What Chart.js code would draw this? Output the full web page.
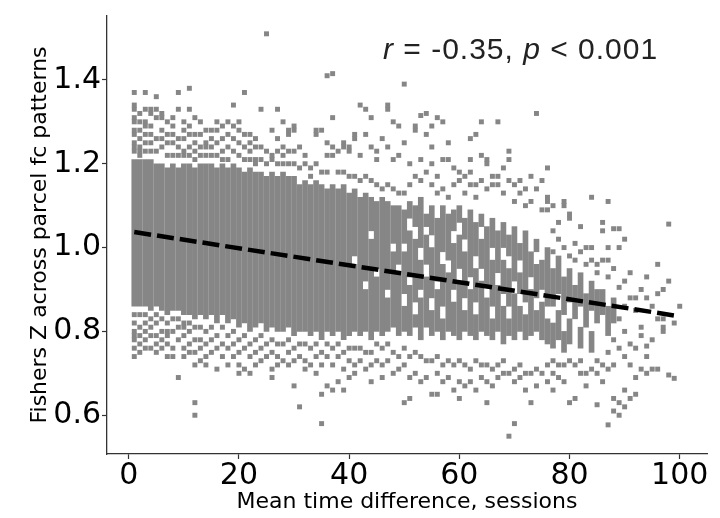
<!DOCTYPE html>
<html>
<head>
<meta charset="utf-8">
<script src="https://cdn.jsdelivr.net/npm/chart.js@4.4.1/dist/chart.umd.min.js"></script>
<style>
  html, body { margin: 0; padding: 0; background: #fff; }
  #wrap { width: 720px; height: 518px; }
</style>
</head>
<body>
<div id="wrap"><canvas id="chart" width="720" height="518"></canvas></div>
<script>
// Dense runs of stacked points: for each column (x = session gap) the [low, high] runs
const runCols = [
  1, 2, 3, 4, 5, 6, 7, 8, 9, 10, 11, 12, 13, 14, 15, 16, 17, 18, 19, 20,
  21, 22, 23, 24, 25, 26, 27, 28, 29, 30, 31, 32, 33, 34, 35, 36, 37, 38, 39, 40,
  41, 42, 43, 44, 45, 46, 47, 48, 49, 50, 51, 52, 53, 54, 55, 56, 57, 58, 59, 60,
  61, 62, 63, 64, 65, 66, 67, 68, 69, 70, 71, 72, 73, 74, 75, 76, 77, 78, 79, 80,
  81, 82, 83, 84, 85, 86, 87, 88
];
const runRanges = [
  [[0.86, 1.21]], [[0.86, 1.21]], [[0.86, 1.21]], [[0.85, 1.21]], [[0.86, 1.20]],
  [[0.85, 1.20]], [[0.84, 1.19]], [[0.85, 1.20]], [[0.85, 1.19]], [[0.84, 1.20]],
  [[0.84, 1.20]], [[0.83, 1.19]], [[0.84, 1.20]], [[0.83, 1.20]], [[0.84, 1.20]],
  [[0.82, 1.19]], [[0.84, 1.20]], [[0.82, 1.19]], [[0.83, 1.20]], [[0.81, 1.19]],
  [[0.82, 1.18]], [[0.80, 1.19]], [[0.81, 1.18]], [[0.82, 1.18]], [[0.80, 1.17]],
  [[0.81, 1.18]], [[0.80, 1.17]], [[0.80, 1.18]], [[0.81, 1.17]], [[0.79, 1.17]],
  [[0.80, 1.15]], [[0.80, 1.16]], [[0.79, 1.15]], [[0.80, 1.16]], [[0.78, 1.15]],
  [[0.80, 1.14]], [[0.79, 1.15]], [[0.80, 1.14]], [[0.78, 1.15]], [[0.79, 1.13]],
  [[0.80, 0.96], [0.98, 1.14]],
  [[0.79, 1.12]],
  [[0.80, 0.90], [0.92, 1.13]],
  [[0.78, 1.02], [1.04, 1.12]],
  [[0.80, 0.93], [0.95, 1.11]],
  [[0.79, 1.12]],
  [[0.80, 0.88], [0.90, 1.11]],
  [[0.81, 0.99], [1.01, 1.10]],
  [[0.79, 0.94], [0.96, 1.10]],
  [[0.80, 0.86], [0.89, 0.99], [1.01, 1.09]],
  [[0.79, 0.91], [0.93, 1.04], [1.07, 1.11]],
  [[0.81, 0.84], [0.87, 1.02], [1.05, 1.10]],
  [[0.78, 0.88], [0.90, 0.97], [1.00, 1.12]],
  [[0.81, 0.93], [0.96, 1.03], [1.05, 1.08]],
  [[0.79, 0.85], [0.88, 1.00], [1.03, 1.10]],
  [[0.80, 0.90], [0.92, 1.07]],
  [[0.78, 0.83], [0.86, 0.96], [0.99, 1.10]],
  [[0.80, 0.94], [0.97, 1.08]],
  [[0.79, 0.87], [0.90, 1.01], [1.04, 1.09]],
  [[0.78, 0.92], [0.95, 1.03], [1.06, 1.10]],
  [[0.80, 0.85], [0.88, 0.99], [1.02, 1.07]],
  [[0.79, 0.90], [0.93, 1.09]],
  [[0.78, 0.84], [0.87, 0.95], [0.98, 1.06]],
  [[0.80, 0.92], [0.95, 1.02], [1.05, 1.08]],
  [[0.79, 0.88], [0.91, 1.05]],
  [[0.78, 0.83], [0.86, 0.97], [1.00, 1.07]],
  [[0.80, 0.91], [0.94, 1.04]],
  [[0.77, 0.86], [0.89, 0.97], [1.00, 1.06]],
  [[0.79, 0.83], [0.86, 0.95], [0.98, 1.03]],
  [[0.78, 0.89], [0.92, 1.05]],
  [[0.80, 0.86], [0.89, 0.94], [0.97, 1.01]],
  [[0.78, 0.84], [0.87, 1.04]],
  [[0.79, 0.90], [0.93, 0.99]],
  [[0.80, 0.85], [0.88, 0.96], [0.99, 1.02]],
  [[0.78, 0.87], [0.90, 0.97]],
  [[0.77, 0.83], [0.86, 1.00]],
  [[0.76, 0.82], [0.86, 0.95]],
  [[0.78, 0.85], [0.89, 0.98]],
  [[0.75, 0.80], [0.84, 0.93]],
  [[0.77, 0.83], [0.87, 0.95]],
  [[0.83, 0.91]],
  [[0.76, 0.81], [0.86, 0.94]],
  [[0.81, 0.89]],
  [[0.75, 0.80], [0.85, 0.92]],
  [[0.82, 0.90]],
  [[0.84, 0.90]],
  [[0.79, 0.86]],
  [[0.82, 0.88]]
];

// Scattered points outside the dense runs, listed per column
const sparseCols = [
  1, 2, 3, 4, 5, 6, 7, 8, 9, 10, 11, 12, 13, 14, 15, 16, 17, 18, 19, 20,
  21, 22, 23, 24, 25, 26, 27, 28, 29, 30, 31, 32, 33, 34, 35, 36, 37, 38, 39, 40,
  41, 42, 43, 44, 45, 46, 47, 48, 49, 50, 51, 52, 53, 54, 55, 56, 57, 58, 59, 60,
  61, 62, 63, 64, 65, 66, 67, 68, 69, 70, 71, 72, 73, 74, 75, 76, 77, 78, 79, 80,
  81, 82, 83, 84, 85, 86, 87, 88, 89, 90, 91, 92, 93, 94, 95, 96, 97, 98, 99, 100
];
const sparseVals = [
  [1.37, 1.34, 1.33, 1.31, 1.30, 1.28, 1.27, 1.25, 1.24, 1.23, 0.84, 0.82, 0.80, 0.79, 0.78, 0.76, 0.74],
  [1.32, 1.30, 1.28, 1.26, 1.24, 1.23, 1.22, 0.84, 0.81, 0.79, 0.77, 0.75],
  [1.37, 1.33, 1.30, 1.29, 1.27, 1.25, 1.23, 0.84, 0.82, 0.80, 0.78, 0.76],
  [1.33, 1.32, 1.29, 1.27, 1.25, 1.23, 0.83, 0.81, 0.79, 0.76],
  [1.36, 1.33, 1.31, 1.26, 1.23, 0.84, 0.82, 0.79, 0.77, 0.75],
  [1.32, 1.31, 1.28, 1.26, 1.24, 0.83, 0.80, 0.78, 0.76],
  [1.30, 1.27, 1.25, 1.22, 0.82, 0.80, 0.79, 0.77, 0.74],
  [1.31, 1.29, 1.27, 1.25, 1.22, 0.83, 0.80, 0.76, 0.74],
  [1.37, 1.33, 1.26, 1.24, 1.22, 0.83, 0.81, 0.78, 0.69],
  [1.30, 1.28, 1.26, 1.23, 1.22, 0.82, 0.81, 0.79, 0.76, 0.74],
  [1.38, 1.33, 1.29, 1.27, 1.24, 1.22, 0.82, 0.80, 0.77, 0.75],
  [1.31, 1.27, 1.25, 1.23, 1.21, 0.81, 0.78, 0.75, 0.72, 0.63, 0.60],
  [1.30, 1.27, 1.24, 1.22, 0.81, 0.78, 0.76, 0.73],
  [1.28, 1.25, 1.24, 1.22, 0.80, 0.77, 0.74, 0.72],
  [1.28, 1.26, 1.24, 1.22, 0.81, 0.78, 0.75],
  [1.30, 1.28, 1.25, 1.22, 0.79, 0.76, 0.71],
  [1.29, 1.26, 1.23, 1.21, 0.81, 0.77, 0.74],
  [1.30, 1.27, 1.24, 1.21, 0.79, 0.76, 0.72],
  [1.34, 1.29, 1.26, 1.23, 0.80, 0.77, 0.74],
  [1.30, 1.28, 1.25, 1.22, 0.78, 0.75, 0.72, 0.70],
  [1.37, 1.27, 1.24, 1.21, 0.79, 0.76, 0.71],
  [1.27, 1.25, 1.23, 1.21, 0.77, 0.74, 0.70],
  [1.26, 1.24, 1.21, 1.20, 0.78, 0.75, 0.72],
  [1.33, 1.24, 1.21, 0.79, 0.76, 0.73],
  [1.51, 1.23, 1.20, 0.77, 0.74],
  [1.28, 1.22, 1.21, 0.78, 0.75, 0.71, 0.69],
  [1.33, 1.26, 1.23, 1.20, 0.77, 0.74, 0.72],
  [1.30, 1.24, 1.22, 1.20, 0.77, 0.73],
  [1.28, 1.27, 1.23, 1.20, 0.78, 0.75, 0.72],
  [1.29, 1.28, 1.23, 1.20, 0.76, 0.73, 0.67],
  [1.24, 1.19, 0.77, 0.74, 0.62],
  [1.22, 1.20, 0.77, 0.73, 0.71],
  [1.19, 1.17, 0.76, 0.72],
  [1.28, 1.27, 1.20, 0.77, 0.74, 0.70],
  [1.28, 1.18, 0.75, 0.72, 0.65, 0.58],
  [1.41, 1.25, 1.22, 1.18, 0.77, 0.74, 0.67],
  [1.415, 1.31, 1.24, 1.22, 0.76, 0.72, 0.66],
  [1.23, 1.18, 0.77, 0.74, 0.68],
  [1.25, 1.24, 1.18, 0.75, 0.71, 0.66],
  [1.24, 1.23, 1.17, 0.76, 0.73, 0.69],
  [1.27, 1.26, 1.17, 0.76, 0.72, 0.70],
  [1.34, 1.22, 1.16, 0.76, 0.73],
  [1.33, 1.27, 1.17, 0.75, 0.71],
  [1.31, 1.24, 1.16, 0.75, 0.72, 0.68],
  [1.23, 1.21, 1.15, 0.77, 0.73],
  [1.26, 1.14, 0.76, 0.72, 0.69],
  [1.34, 1.33, 1.24, 1.15, 0.77, 0.73],
  [1.30, 1.21, 1.14, 0.75, 0.70],
  [1.29, 1.22, 1.13, 0.74, 0.71],
  [1.39, 1.25, 1.13, 0.76, 0.72, 0.63],
  [1.20, 1.15, 0.74, 0.69, 0.64],
  [1.29, 1.28, 1.17, 0.75, 0.70],
  [1.315, 1.21, 1.16, 0.74, 0.68],
  [1.32, 1.27, 1.18, 0.73, 0.69],
  [1.29, 1.24, 1.20, 1.15, 0.73, 0.65],
  [1.31, 1.17, 1.13, 0.74, 0.70, 0.65],
  [1.30, 1.21, 1.14, 0.72, 0.68],
  [1.25, 1.21, 1.12, 0.73, 0.69],
  [1.19, 1.15, 0.72, 0.66],
  [1.18, 1.16, 0.73, 0.68, 0.64],
  [1.17, 1.13, 0.72, 0.67],
  [1.26, 1.21, 1.18, 1.15, 0.71, 0.68],
  [1.27, 1.15, 1.12, 0.73, 0.66],
  [1.30, 1.22, 1.16, 0.72, 0.69],
  [1.21, 1.20, 1.14, 0.72, 0.68, 0.63],
  [1.17, 1.15, 0.71, 0.67],
  [1.30, 1.17, 1.15, 0.72, 0.69],
  [1.19, 1.13, 0.73, 0.70],
  [1.23, 1.21, 1.16, 0.70, 0.55],
  [1.15, 1.11, 0.71, 0.68, 0.58],
  [1.16, 1.13, 0.72, 0.69],
  [1.14, 1.10, 0.70, 0.66],
  [1.17, 1.11, 0.70, 0.63],
  [1.32, 1.14, 0.71, 0.67],
  [1.16, 1.09, 0.70],
  [1.19, 1.12, 1.11, 1.09, 0.72, 0.68],
  [1.10, 1.04, 0.99, 0.73, 0.70, 0.66],
  [1.06, 1.02, 0.72, 0.69],
  [1.11, 1.10, 1.00, 0.72, 0.68],
  [1.08, 1.07, 0.98, 0.73, 0.63],
  [1.01, 0.97, 0.72, 0.64],
  [1.05, 0.99, 0.73, 0.70],
  [1.00, 0.96, 0.70, 0.67],
  [1.12, 1.00, 0.97, 0.71],
  [0.96, 0.94, 0.73, 0.70, 0.625],
  [1.06, 1.04, 0.97, 0.72, 0.68],
  [1.11, 1.00, 0.97, 0.93, 0.75, 0.71, 0.577],
  [1.045, 0.95, 0.78, 0.72, 0.64, 0.61],
  [1.045, 1.00, 0.905, 0.83, 0.76, 0.63, 0.60],
  [1.02, 0.92, 0.86, 0.80, 0.74, 0.66, 0.62],
  [0.94, 0.88, 0.77, 0.72, 0.64],
  [0.88, 0.85, 0.76, 0.69, 0.65],
  [0.90, 0.81, 0.79, 0.71],
  [0.93, 0.88, 0.765, 0.74, 0.70],
  [0.86, 0.78, 0.71],
  [0.96, 0.89, 0.83, 0.71],
  [0.90, 0.83, 0.81, 0.80],
  [1.056, 0.92, 0.696],
  [0.82, 0.688],
  [0.86]
];

// Regression fit endpoints
const fitX = [1, 100];
const fitY = [1.037, 0.836];

const xTicks = [0, 20, 40, 60, 80, 100];
const yTicks = [0.6, 0.8, 1.0, 1.2, 1.4];
const statText = ['r', ' = -0.35, ', 'p', ' < 0.001'];

const POINT_GREY = '#868686';
const TICK_FONT = { family: 'DejaVu Sans', size: 30, lineHeight: 1 };
const LABEL_FONT = { family: 'DejaVu Sans', size: 22, lineHeight: 1.2 };

const segData = [];
runCols.forEach((x, i) => {
  runRanges[i].forEach(r => segData.push({ x: x, y: r }));
});
const ptData = [];
sparseCols.forEach((x, i) => {
  sparseVals[i].forEach(y => ptData.push({ x: x, y: y }));
});
const fitData = fitX.map((x, i) => ({ x: x, y: fitY[i] }));

// r / p annotation drawn on the canvas, italic for the symbols
const statPlugin = {
  id: 'statText',
  afterDraw(chart) {
    const ctx = chart.ctx;
    ctx.save();
    ctx.fillStyle = '#222';
    ctx.textBaseline = 'alphabetic';
    ctx.letterSpacing = '1px';
    let x = 383;
    statText.forEach((part, i) => {
      ctx.font = (i % 2 === 0 ? 'italic ' : '') + '30px "Liberation Sans"';
      ctx.fillText(part, x, 59);
      x += ctx.measureText(part).width;
    });
    ctx.restore();
  }
};

function axisGrid() {
  return {
    display: true,
    offset: false,
    drawOnChartArea: false,
    drawTicks: true,
    tickLength: 5,
    tickColor: '#333',
    tickWidth: 1.2
  };
}

new Chart(document.getElementById('chart'), {
  type: 'scatter',
  data: {
    datasets: [
      {
        type: 'line',
        data: fitData,
        borderColor: '#000',
        borderWidth: 4.5,
        borderDash: [17, 6],
        borderCapStyle: 'butt',
        pointRadius: 0,
        fill: false,
        order: 0
      },
      {
        type: 'scatter',
        data: ptData,
        pointStyle: 'rect',
        pointRadius: 3.5,
        backgroundColor: POINT_GREY,
        borderWidth: 0,
        order: 1
      },
      {
        type: 'bar',
        data: segData,
        backgroundColor: POINT_GREY,
        borderWidth: 0,
        barThickness: 5,
        grouped: false,
        order: 2
      }
    ]
  },
  options: {
    responsive: false,
    animation: false,
    layout: { padding: { top: 11, right: 13, left: 0, bottom: 0 } },
    plugins: { legend: { display: false }, tooltip: { enabled: false } },
    scales: {
      x: {
        type: 'linear',
        offset: false,
        min: -3.95,
        max: 104.95,
        afterBuildTicks: s => { s.ticks = xTicks.map(v => ({ value: v })); },
        afterFit: s => { s.height = 64; },
        ticks: { font: TICK_FONT, color: '#000', padding: 2, maxRotation: 0, callback: v => String(v) },
        grid: axisGrid(),
        border: { display: true, color: '#333', width: 1.3 },
        title: {
          display: true,
          text: 'Mean time difference, sessions',
          font: LABEL_FONT,
          color: '#000',
          padding: { top: 0, bottom: 3 }
        }
      },
      y: {
        type: 'linear',
        min: 0.5075,
        max: 1.5525,
        afterBuildTicks: s => { s.ticks = yTicks.map(v => ({ value: v })); },
        afterFit: s => { s.width = 107; },
        ticks: { font: TICK_FONT, color: '#000', padding: 1, callback: v => v.toFixed(1) },
        grid: axisGrid(),
        border: { display: true, color: '#333', width: 1.3 },
        title: {
          display: true,
          text: 'Fishers Z across parcel fc patterns',
          font: LABEL_FONT,
          color: '#000',
          padding: { top: 27, bottom: 0 }
        }
      }
    }
  },
  plugins: [statPlugin]
});
</script>
</body>
</html>
